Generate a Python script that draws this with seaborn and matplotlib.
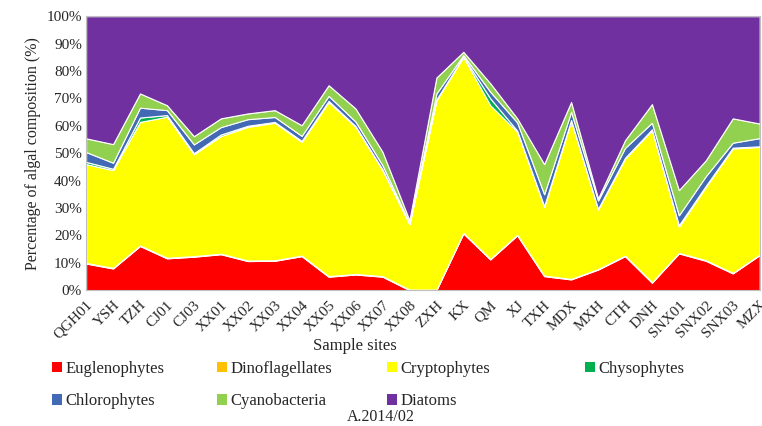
import numpy as np
import pandas as pd
import seaborn as sns
import matplotlib.pyplot as plt
from matplotlib.patches import Patch
from matplotlib.ticker import PercentFormatter

sites = ["QGH01", "YSH", "TZH", "CJ01", "CJ03", "XX01", "XX02", "XX03", "XX04",
         "XX05", "XX06", "XX07", "XX08", "ZXH", "KX", "QM", "XJ", "TXH", "MDX",
         "MXH", "CTH", "DNH", "SNX01", "SNX02", "SNX03", "MZX"]

euglenophytes = [9.7, 7.9, 16.1, 11.6, 12.2, 13.1, 10.6, 10.7, 12.4, 4.9, 5.7, 4.9, 0.0,
                 0.0, 20.7, 11.2, 20.0, 5.1, 3.9, 7.5, 12.4, 2.7, 13.4, 10.7, 6.1, 12.8]
dinoflagellates = [0.2] * 26
cryptophytes = [36.1, 35.7, 45.1, 51.5, 37.2, 42.9, 48.8, 50.2, 41.5, 63.6, 53.7, 38.7, 23.9,
                69.1, 64.2, 56.1, 37.6, 25.1, 57.7, 21.7, 35.4, 55.5, 9.5, 26.8, 45.4, 39.3]
chysophytes = [0.8, 0.5, 1.6, 0.6, 0.4, 0.6, 0.4, 0.3, 0.4, 0.4, 0.3, 0.3, 0.1,
               0.3, 0.2, 2.5, 0.4, 0.3, 0.3, 0.3, 0.3, 0.3, 0.6, 0.4, 0.3, 0.2]
chlorophytes = [3.6, 2.2, 3.6, 1.8, 3.2, 2.7, 2.4, 1.8, 1.8, 1.8, 1.6, 1.5, 0.3,
                2.2, 0.5, 2.4, 3.0, 4.3, 3.0, 3.0, 3.6, 2.4, 3.6, 3.5, 1.8, 3.0]
cyanobacteria = [5.0, 6.8, 5.2, 1.8, 3.0, 3.2, 2.1, 2.5, 3.9, 3.9, 4.8, 4.9, 1.0,
                 5.8, 1.2, 3.1, 1.5, 11.0, 3.6, 0.8, 2.8, 6.8, 9.2, 5.8, 8.9, 5.3]
diatoms = [44.6, 46.7, 28.2, 32.5, 43.8, 37.3, 35.5, 34.3, 39.8, 25.2, 33.7, 49.5, 74.5,
           22.4, 13.0, 24.5, 37.3, 54.0, 31.3, 66.5, 45.3, 32.1, 63.5, 52.6, 37.3, 39.2]

groups = ["Euglenophytes", "Dinoflagellates", "Cryptophytes", "Chysophytes",
          "Chlorophytes", "Cyanobacteria", "Diatoms"]
colors = ["#FF0000", "#FFC000", "#FFFF00", "#00B050", "#4169B4", "#92D050", "#7030A0"]

df = pd.DataFrame({
    "Euglenophytes": euglenophytes,
    "Dinoflagellates": dinoflagellates,
    "Cryptophytes": cryptophytes,
    "Chysophytes": chysophytes,
    "Chlorophytes": chlorophytes,
    "Cyanobacteria": cyanobacteria,
    "Diatoms": diatoms,
}, index=sites)

sns.set_style("white")
plt.rcParams["font.family"] = ["Liberation Serif", "DejaVu Serif"]

fig = plt.figure(figsize=(7.62, 4.26), dpi=100)
ax = fig.add_axes([0.113, 0.319, 0.884, 0.643])

x = np.arange(len(sites))
ax.stackplot(x, [df[g].values for g in groups], colors=colors,
             edgecolor="white", linewidth=0.8)

ax.set_xlim(0, len(sites) - 1)
ax.set_ylim(0, 100)
ax.set_yticks(np.arange(0, 101, 10))
ax.yaxis.set_major_formatter(PercentFormatter(decimals=0))
ax.set_xticks(x)
ax.set_xticklabels(sites, rotation=45, ha="right", rotation_mode="anchor")
ax.tick_params(axis="x", length=4, color="#BFBFBF", labelsize=11, pad=2)
ax.tick_params(axis="y", length=0, labelsize=11, pad=3)
for s in ax.spines.values():
    s.set_color("#BFBFBF")
    s.set_linewidth(0.8)

ax.set_ylabel("Percentage of algal composition (%)", fontsize=11.5, labelpad=4)
fig.text(0.466, 0.188, "Sample sites", fontsize=12, ha="center", va="center")

# legend: 4 columns laid out row by row, like the original
col_x = [57, 222, 392, 590]
columns = [[0, 4], [1, 5], [2, 6], [3]]
for cx, idx in zip(col_x, columns):
    leg = fig.legend([Patch(facecolor=colors[i], edgecolor="none") for i in idx],
                     [groups[i] for i in idx],
                     loc="upper left", bbox_to_anchor=((cx - 5) / 762, 0.153),
                     ncol=1, frameon=False, fontsize=12, handlelength=0.6,
                     handleheight=0.6, handletextpad=0.2, labelspacing=1.0,
                     borderpad=0, borderaxespad=0)
fig.text(0.5, 0.022, "A.2014/02", fontsize=11.5, ha="center", va="center")

fig.savefig("out.png", dpi=100)
